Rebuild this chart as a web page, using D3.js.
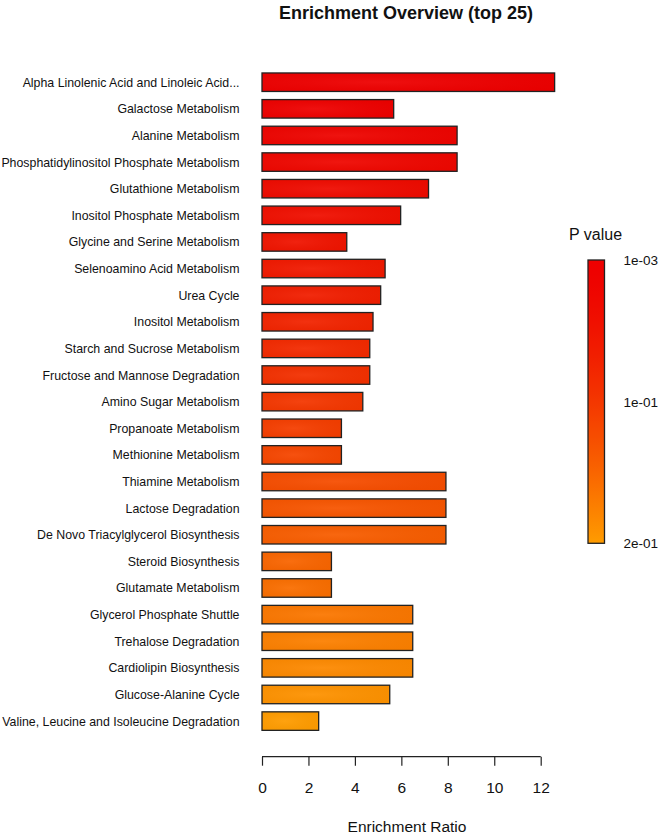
<!DOCTYPE html>
<html>
<head>
<meta charset="utf-8">
<script src="https://cdn.jsdelivr.net/npm/d3@7"></script>
<style>
  body { margin: 0; background: #fff; }
  svg { font-family: "Liberation Sans", Arial, sans-serif; }
</style>
</head>
<body>
<div id="main"></div>
<script>
const w = 666, h = 834;

// pathways, top to bottom
const pathways = [
  'Alpha Linolenic Acid and Linoleic Acid...',
  'Galactose Metabolism',
  'Alanine Metabolism',
  'Phosphatidylinositol Phosphate Metabolism',
  'Glutathione Metabolism',
  'Inositol Phosphate Metabolism',
  'Glycine and Serine Metabolism',
  'Selenoamino Acid Metabolism',
  'Urea Cycle',
  'Inositol Metabolism',
  'Starch and Sucrose Metabolism',
  'Fructose and Mannose Degradation',
  'Amino Sugar Metabolism',
  'Propanoate Metabolism',
  'Methionine Metabolism',
  'Thiamine Metabolism',
  'Lactose Degradation',
  'De Novo Triacylglycerol Biosynthesis',
  'Steroid Biosynthesis',
  'Glutamate Metabolism',
  'Glycerol Phosphate Shuttle',
  'Trehalose Degradation',
  'Cardiolipin Biosynthesis',
  'Glucose-Alanine Cycle',
  'Valine, Leucine and Isoleucine Degradation'
];
const enrichment = [12.6, 5.67, 8.4, 8.4, 7.17, 5.97, 3.65, 5.3, 5.11, 4.78, 4.64, 4.64, 4.34,
                    3.42, 3.42, 7.92, 7.92, 7.92, 2.99, 2.99, 6.49, 6.49, 6.49, 5.5, 2.44];
const xTicks = [0, 2, 4, 6, 8, 10, 12];
const legendLabels = ['1e-03', '1e-01', '2e-01'];

const data = pathways.map((name, i) => ({ name, value: enrichment[i], rank: i }));

const svg = d3.select('#main').append('svg')
  .attr('width', w)
  .attr('height', h);

const x = d3.scaleLinear().domain([0, 12]).range([262, 540.7]);
const y = d3.scaleBand()
  .domain(pathways)
  .range([68.9, 734.4])
  .paddingInner(0.305)
  .paddingOuter(0.1525);

// red -> orange, by p value rank
const colorT = d3.scalePow().exponent(1.5).domain([0, pathways.length - 1]).range([0, 1]);
const color = i => d3.interpolateRgb('#ee0000', '#ff9c00')(colorT(i));

const defs = svg.append('defs');
const shade = defs.append('radialGradient').attr('id', 'shade')
  .attr('cx', 0.4).attr('cy', 0.5).attr('r', 0.7);
shade.append('stop').attr('offset', '0%').attr('stop-color', '#fff').attr('stop-opacity', 0.06);
shade.append('stop').attr('offset', '100%').attr('stop-color', '#000').attr('stop-opacity', 0.03);

// title
svg.append('text')
  .text('Enrichment Overview (top 25)')
  .attr('x', 406)
  .attr('y', 19)
  .attr('text-anchor', 'middle')
  .attr('font-weight', 'bold')
  .attr('font-size', 18)
  .attr('fill', '#111');

// bars
const bars = svg.selectAll('g.bar')
  .data(data)
  .enter()
  .append('g')
  .attr('class', 'bar');

bars.append('rect')
  .attr('x', x(0))
  .attr('y', d => y(d.name))
  .attr('width', d => x(d.value) - x(0))
  .attr('height', y.bandwidth())
  .attr('fill', d => color(d.rank));

bars.append('rect')
  .attr('x', x(0))
  .attr('y', d => y(d.name))
  .attr('width', d => x(d.value) - x(0))
  .attr('height', y.bandwidth())
  .attr('fill', 'url(#shade)')
  .attr('stroke', '#222')
  .attr('stroke-width', 1.3);

// category labels
svg.selectAll('text.cat')
  .data(data)
  .enter()
  .append('text')
  .attr('class', 'cat')
  .text(d => d.name)
  .attr('x', 239.5)
  .attr('y', d => y(d.name) + y.bandwidth() / 2 + 4.5)
  .attr('text-anchor', 'end')
  .attr('font-size', 12.35)
  .attr('fill', '#111');

// x axis
const xAxis = d3.axisBottom(x).tickValues(xTicks).tickSize(9).tickPadding(16);
const gx = svg.append('g')
  .attr('transform', 'translate(0,756.7)')
  .call(xAxis);
gx.select('.domain').attr('stroke', '#222').attr('stroke-width', 1.2)
  .attr('d', `M${x(0)},0H${x(12)}`);
gx.selectAll('.tick line').attr('stroke', '#222').attr('stroke-width', 1.2);
gx.selectAll('.tick text')
  .attr('font-size', 15.5)
  .attr('font-family', '"Liberation Sans", Arial, sans-serif')
  .attr('fill', '#111');

svg.append('text')
  .text('Enrichment Ratio')
  .attr('x', 407)
  .attr('y', 832)
  .attr('text-anchor', 'middle')
  .attr('font-size', 15.5)
  .attr('fill', '#111');

// legend
const lgX = 588, lgW = 16.5, lgTop = 260, lgBot = 543.3;
svg.append('text')
  .text('P value')
  .attr('x', 569)
  .attr('y', 240)
  .attr('font-size', 16)
  .attr('fill', '#111');

const lg = defs.append('linearGradient').attr('id', 'lg')
  .attr('x1', 0).attr('y1', 0).attr('x2', 0).attr('y2', 1);
d3.range(pathways.length).forEach(i => {
  lg.append('stop')
    .attr('offset', (i / (pathways.length - 1) * 100) + '%')
    .attr('stop-color', color(i));
});

svg.append('rect')
  .attr('x', lgX)
  .attr('y', lgTop)
  .attr('width', lgW)
  .attr('height', lgBot - lgTop)
  .attr('fill', 'url(#lg)')
  .attr('stroke', '#222')
  .attr('stroke-width', 1.3);

const lgScale = d3.scalePoint().domain(legendLabels).range([lgTop, lgBot]);
svg.selectAll('text.lg')
  .data(legendLabels)
  .enter()
  .append('text')
  .attr('class', 'lg')
  .text(d => d)
  .attr('x', 623.5)
  .attr('y', d => lgScale(d) + 5)
  .attr('font-size', 13.5)
  .attr('fill', '#111');
</script>
</body>
</html>
